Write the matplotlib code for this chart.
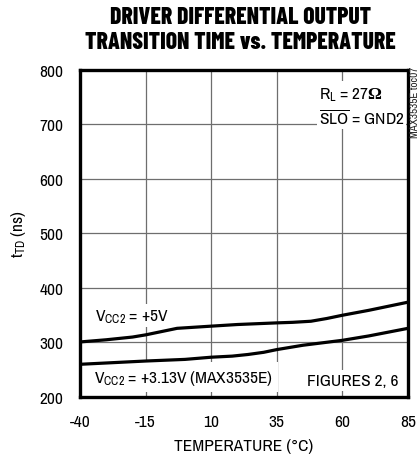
import matplotlib
matplotlib.use("Agg")
import matplotlib.pyplot as plt

plt.rcParams['font.family'] = ['Archivo Narrow', 'Liberation Sans', 'DejaVu Sans']
plt.rcParams['mathtext.fontset'] = 'custom'
plt.rcParams['mathtext.rm'] = 'Archivo Narrow'
plt.rcParams['mathtext.it'] = 'Archivo Narrow'
plt.rcParams['mathtext.sf'] = 'Liberation Serif:bold'
plt.rcParams['axes.unicode_minus'] = False

# transition time vs temperature, two supply voltages
temp_5v = [-40, -30, -20, -15, -10, -3, 10, 20, 35, 41, 48, 54, 60, 70, 85]
td_5v = [301, 305, 310, 314, 319, 326, 330, 333, 336, 337, 339, 344, 350, 359, 374]

temp_313v = [-40, -15, 0, 10, 18, 24, 30, 35, 45, 60, 70, 85]
td_313v = [260, 266, 269, 273, 275, 278, 282, 287, 295, 304, 312, 326]

xticks = [-40, -15, 10, 35, 60, 85]
yticks = [200, 300, 400, 500, 600, 700, 800]

fig = plt.figure(figsize=(4.2, 4.56), dpi=100)
ax = fig.add_axes([0.1905, 0.1272, 0.7810, 0.7171])

ax.set_xlim(-40, 85)
ax.set_ylim(200, 800)
ax.set_xticks(xticks)
ax.set_yticks(yticks)
ax.tick_params(length=0, labelsize=12.5, pad=12)
ax.grid(True, color='#6e6e6e', linewidth=0.9, zorder=1)
ax.set_axisbelow(True)
for s in ax.spines.values():
    s.set_linewidth(2.4)
    s.set_zorder(10)

ax.plot(temp_5v, td_5v, color='black', linewidth=2.3, zorder=5)
ax.plot(temp_313v, td_313v, color='black', linewidth=2.3, zorder=5)

fs = 12.5
box = dict(facecolor='white', edgecolor='none', pad=2)
ax.text(-34.3, 349, r'V$_{\rm CC2}$ = +5V', fontsize=fs, va='center', ha='left',
        bbox=box, zorder=3)
ax.text(-34.8, 236, r'V$_{\rm CC2}$ = +3.13V (MAX3535E)', fontsize=fs,
        va='center', ha='left', bbox=dict(facecolor='white', edgecolor='none', pad=4),
        zorder=3)
ax.text(81.2, 230, 'FIGURES 2, 6', fontsize=fs, va='center', ha='right',
        bbox=box, zorder=3)
ax.text(51, 748, r'R$_{\rm L}$ = 27$\mathsf{\Omega}$', fontsize=fs, va='baseline',
        ha='left', bbox=dict(facecolor='white', edgecolor='none', pad=3), zorder=3)
ax.text(51, 701, r'$\overline{\rm SLO}$ = GND2', fontsize=fs, va='baseline',
        ha='left', bbox=dict(facecolor='white', edgecolor='none', pad=1.5), zorder=3)

ax.set_xlabel('TEMPERATURE (°C)', fontsize=fs, labelpad=7)
ax.set_ylabel(r't$_{\rm TD}$ (ns)', fontsize=fs, labelpad=8)

title_font = ['Barlow Condensed', 'Archivo Narrow', 'DejaVu Sans']
fig.text(0.572, 0.960, 'DRIVER DIFFERENTIAL OUTPUT', ha='center', va='center',
         fontsize=17, fontweight=800, family=title_font)
fig.text(0.572, 0.906, 'TRANSITION TIME vs. TEMPERATURE', ha='center', va='center',
         fontsize=17, fontweight=800, family=title_font)
fig.text(0.988, 0.775, 'MAX3535E toc07', rotation=90, ha='center', va='center',
         fontsize=8, color='#222222')

fig.savefig('out.png', dpi=100)
